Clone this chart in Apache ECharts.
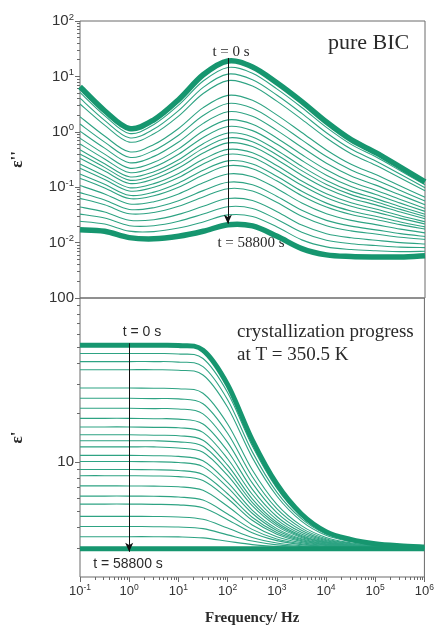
<!DOCTYPE html>
<html><head><meta charset="utf-8">
<script src="https://cdn.jsdelivr.net/npm/echarts@6/dist/echarts.min.js"></script>
<style>html,body{margin:0;padding:0;background:#fff}#c{width:437px;height:628px}</style>
</head><body><div id="c"></div>
<script>
// Frequencies (Hz), half-decade steps
const freq = [0.1, 0.316, 1, 3.16, 10, 31.6, 100, 316, 1000, 3162, 10000, 31623, 100000, 316228, 1000000];

// Tick values
const xMajor = [0.1, 1, 10, 100, 1000, 10000, 100000, 1000000];
const lossMajor = [0.001, 0.01, 0.1, 1, 10, 100];
const lossLabels = [0.01, 0.1, 1, 10, 100];
const permMajor = [10, 100];
const permLabels = [10, 100];

// epsilon'' (top panel), t = 0 s ... t = 58800 s
const loss01 = [6.5,2.4,1.15,1.65,3.8,10.7,19,14.8,7.6,3.5,1.5,0.72,0.42,0.23,0.125];
const loss02 = [5.13,1.96,0.935,1.36,3.03,8.24,14.5,11.4,5.89,2.74,1.2,0.593,0.353,0.198,0.111];
const loss03 = [4.04,1.61,0.78,1.12,2.41,6.35,11.0,8.71,4.57,2.15,0.964,0.488,0.297,0.171,0.0977];
const loss04 = [3.18,1.32,0.652,0.92,1.92,4.9,8.39,6.7,3.54,1.68,0.773,0.402,0.249,0.147,0.0865];
const loss05 = [1.87,0.838,0.435,0.59,1.15,2.73,4.55,3.7,2.0,0.971,0.47,0.259,0.169,0.105,0.0656];
const loss06 = [1.38,0.652,0.347,0.462,0.869,1.97,3.24,2.65,1.45,0.715,0.357,0.204,0.136,0.0871,0.0562];
const loss07 = [1.03,0.507,0.277,0.36,0.655,1.42,2.3,1.91,1.05,0.527,0.271,0.16,0.109,0.0723,0.0482];
const loss08 = [0.764,0.395,0.221,0.281,0.492,1.03,1.64,1.37,0.767,0.388,0.206,0.125,0.0881,0.06,0.0414];
const loss09 = [0.603,0.324,0.184,0.231,0.393,0.792,1.25,1.05,0.594,0.304,0.165,0.103,0.0741,0.0516,0.0366];
const loss10 = [0.474,0.265,0.154,0.19,0.313,0.611,0.951,0.809,0.461,0.238,0.132,0.0849,0.0622,0.0445,0.0324];
const loss11 = [0.397,0.228,0.134,0.164,0.264,0.502,0.775,0.664,0.381,0.199,0.112,0.0735,0.0547,0.0398,0.0295];
const loss12 = [0.332,0.196,0.117,0.141,0.222,0.413,0.631,0.543,0.314,0.165,0.0948,0.0634,0.048,0.0356,0.0269];
const loss13 = [0.262,0.16,0.098,0.116,0.177,0.318,0.481,0.418,0.244,0.129,0.076,0.0522,0.0404,0.0306,0.0238];
const loss14 = [0.219,0.138,0.0855,0.0995,0.149,0.262,0.393,0.343,0.201,0.108,0.0644,0.0452,0.0355,0.0274,0.0217];
const loss15 = [0.173,0.113,0.0714,0.0815,0.119,0.202,0.299,0.263,0.156,0.0843,0.0516,0.0372,0.0298,0.0236,0.0192];
const loss16 = [0.145,0.0971,0.0624,0.0702,0.1,0.166,0.244,0.216,0.129,0.0703,0.0438,0.0321,0.0262,0.0211,0.0175];
const loss17 = [0.107,0.0757,0.0498,0.0547,0.0755,0.12,0.173,0.155,0.0938,0.0518,0.0332,0.0252,0.0211,0.0175,0.015];
const loss18 = [0.0798,0.0589,0.0397,0.0427,0.0569,0.0867,0.123,0.111,0.0681,0.0382,0.0252,0.0198,0.017,0.0145,0.0129];
const loss19 = [0.0628,0.0482,0.0332,0.035,0.0454,0.0668,0.094,0.0855,0.0528,0.0299,0.0202,0.0163,0.0143,0.0125,0.0114];
const loss20 = [0.044,0.0356,0.0253,0.0259,0.0323,0.0453,0.0624,0.0575,0.0361,0.0207,0.0145,0.0122,0.011,0.01,0.00946];
const loss21 = [0.0327,0.0277,0.0202,0.0202,0.0243,0.0327,0.0444,0.0414,0.0262,0.0153,0.011,0.00955,0.00885,0.00828,0.00813];
const loss22 = [0.0243,0.0216,0.0161,0.0158,0.0183,0.0236,0.0316,0.0297,0.0191,0.0112,0.00836,0.0075,0.00713,0.00687,0.00697];
const loss23 = [0.017,0.016,0.0123,0.0117,0.013,0.016,0.021,0.02,0.013,0.0078,0.006,0.0056,0.0055,0.0055,0.0058];

// epsilon' (bottom panel), t = 0 s ... t = 58800 s
const perm01 = [51.5,51.5,51.5,51.5,51.3,48.1,29.7,13.7,7.37,4.84,3.78,3.39,3.19,3.1,3.05];
const perm02 = [45.9,45.9,45.9,45.9,45.6,42.8,26.6,12.6,6.95,4.68,3.71,3.35,3.18,3.09,3.04];
const perm03 = [41,41,41,41,40.7,38.2,24.0,11.6,6.57,4.53,3.65,3.32,3.16,3.08,3.04];
const perm04 = [36.6,36.6,36.6,36.6,36.3,34.0,21.6,10.7,6.23,4.38,3.59,3.29,3.14,3.07,3.03];
const perm05 = [28.3,28.3,28.3,28.2,28.0,26.3,17.1,8.99,5.54,4.11,3.48,3.23,3.11,3.05,3.03];
const perm06 = [24.5,24.5,24.5,24.4,24.3,22.7,15.0,8.18,5.21,3.97,3.42,3.2,3.1,3.05,3.02];
const perm07 = [21.3,21.3,21.3,21.2,21.1,19.7,13.2,7.48,4.93,3.85,3.37,3.18,3.08,3.04,3.02];
const perm08 = [18.5,18.5,18.5,18.4,18.3,17.1,11.7,6.86,4.67,3.74,3.33,3.15,3.07,3.03,3.02];
const perm09 = [16.4,16.4,16.4,16.3,16.2,15.2,10.5,6.38,4.47,3.65,3.29,3.13,3.06,3.03,3.01];
const perm10 = [14.7,14.7,14.7,14.6,14.5,13.6,9.59,5.99,4.31,3.58,3.26,3.12,3.06,3.03,3.01];
const perm11 = [13.5,13.5,13.5,13.5,13.3,12.5,8.92,5.7,4.19,3.53,3.24,3.11,3.05,3.02,3.01];
const perm12 = [12.4,12.4,12.4,12.4,12.2,11.5,8.31,5.44,4.08,3.48,3.22,3.1,3.05,3.02,3.01];
const perm13 = [11,11,11,10.96,10.85,10.2,7.53,5.11,3.94,3.42,3.19,3.09,3.04,3.02,3.01];
const perm14 = [10.1,10.1,10.1,10.06,9.96,9.4,7.03,4.89,3.84,3.38,3.17,3.08,3.04,3.02,3.01];
const perm15 = [9.03,9.03,9.02,8.99,8.91,8.42,6.43,4.62,3.73,3.33,3.15,3.07,3.03,3.01,3.01];
const perm16 = [8.28,8.28,8.27,8.25,8.17,7.74,6.01,4.43,3.64,3.29,3.13,3.06,3.03,3.01,3.01];
const perm17 = [7.18,7.18,7.17,7.15,7.09,6.74,5.39,4.15,3.52,3.24,3.11,3.05,3.02,3.01,3.0];
const perm18 = [6.22,6.22,6.22,6.2,6.14,5.88,4.84,3.9,3.41,3.19,3.08,3.04,3.02,3.01,3.0];
const perm19 = [5.56,5.56,5.56,5.54,5.5,5.28,4.47,3.72,3.33,3.15,3.07,3.03,3.01,3.01,3.0];
const perm20 = [4.68,4.68,4.68,4.67,4.64,4.49,3.97,3.48,3.22,3.1,3.05,3.02,3.01,3.0,3.0];
const perm21 = [4.06,4.06,4.06,4.05,4.03,3.94,3.61,3.31,3.14,3.07,3.03,3.01,3.01,3.0,3.0];
const perm22 = [3.52,3.52,3.52,3.52,3.51,3.46,3.3,3.15,3.07,3.03,3.02,3.01,3.0,3.0,3.0];
const perm23 = [2.97,2.97,2.97,2.97,2.97,2.97,2.97,2.97,2.97,2.97,2.97,2.97,2.97,2.97,2.97];

const lossCurves = [loss01,loss02,loss03,loss04,loss05,loss06,loss07,loss08,loss09,loss10,loss11,loss12,
  loss13,loss14,loss15,loss16,loss17,loss18,loss19,loss20,loss21,loss22,loss23];
const permCurves = [perm01,perm02,perm03,perm04,perm05,perm06,perm07,perm08,perm09,perm10,perm11,perm12,
  perm13,perm14,perm15,perm16,perm17,perm18,perm19,perm20,perm21,perm22,perm23];

// minor tick values (2..9 per decade)
function minorTicks(decades){ const out=[]; decades.forEach(d=>{ for(let m=2;m<=9;m++) out.push(+(m*d).toPrecision(3)); }); return out; }
const xMinor = minorTicks([0.1,1,10,100,1000,10000,100000]);
const lossMinor = minorTicks([0.001,0.01,0.1,1,10]);
const permMinor = minorTicks([1,10]).filter(v=>v>2 && v<100);

const bandColor = '#16966f';
const thinColor = '#2ea383';
const frame = '#6a6a6a';
const ink = '#2a2a2a';

const supRich = {
  b: {fontFamily:'Liberation Sans', fontSize:13, color:'#333', lineHeight:16},
  s: {fontFamily:'Liberation Sans', fontSize:8.5, color:'#333', verticalAlign:'top', lineHeight:9}
};
const supFmt = v => '{b|10}{s|' + Math.round(Math.log10(v)) + '}';
const supRichY = {
  b: {fontFamily:'Liberation Sans', fontSize:15, color:'#333', lineHeight:18},
  s: {fontFamily:'Liberation Sans', fontSize:9.5, color:'#333', verticalAlign:'top', lineHeight:10}
};

// Catmull-Rom spline through the points (pixel space, from the axes' own scales)
function splinePath(pts){
  let d = 'M' + pts[0][0] + ' ' + pts[0][1];
  for (let i = 0; i < pts.length - 1; i++) {
    const p0 = pts[Math.max(i - 1, 0)], p1 = pts[i], p2 = pts[i + 1], p3 = pts[Math.min(i + 2, pts.length - 1)];
    const c1x = p1[0] + (p2[0] - p0[0]) / 6, c1y = p1[1] + (p2[1] - p0[1]) / 6;
    const c2x = p2[0] - (p3[0] - p1[0]) / 6, c2y = p2[1] - (p3[1] - p1[1]) / 6;
    d += ' C' + c1x + ' ' + c1y + ' ' + c2x + ' ' + c2y + ' ' + p2[0] + ' ' + p2[1];
  }
  return d;
}

const series = [];
function addCurves(rows, ai, bandW){
  rows.forEach((r, i) => {
    const edge = (i === 0 || i === rows.length - 1);
    series.push({
      type:'custom', xAxisIndex:ai, yAxisIndex:ai, silent:true,
      data: r.map((v, j) => [freq[j], v]),
      encode:{x:0, y:1},
      z: edge ? 4 : 3,
      renderItem: function(params, api){
        if (params.dataIndexInside !== 0) return null;
        const pts = r.map((v, j) => api.coord([freq[j], v]));
        return {type:'path', shape:{pathData: splinePath(pts)},
          style:{fill:'none', stroke: edge ? bandColor : thinColor, lineWidth: edge ? bandW : 1.1}};
      }
    });
  });
}
addCurves(lossCurves, 0, 5.5);
addCurves(permCurves, 1, 5);

const arrowTop = [[100, 21.5], [100, 0.022]];
const arrowBottom = [[1, 53], [1, 2.85]];
function arrowSeries(pts, ai){
  return {type:'line', xAxisIndex:ai, yAxisIndex:ai, silent:true, data: pts, symbol:'none',
    lineStyle:{opacity:0}, z:6,
    markLine:{symbol:['none','arrow'], symbolSize:[6,9], silent:true, animation:false,
      lineStyle:{color:'#111', width:1, type:'solid'}, label:{show:false},
      data:[[{coord:pts[0]}, {coord:pts[1]}]]}};
}
series.push(arrowSeries(arrowTop, 0));
series.push(arrowSeries(arrowBottom, 1));

const logX = {type:'log', logBase:10, min:0.1, max:1000000, splitLine:{show:false}, axisLine:{show:false}};

const option = {
  animation:false,
  backgroundColor:'#fff',
  grid:[
    {left:80, top:21, width:345, height:277, show:true, borderColor:frame, borderWidth:1, backgroundColor:'transparent'},
    {left:80, top:298, width:345, height:279, show:true, borderColor:frame, borderWidth:1, backgroundColor:'transparent'},
    {left:80, top:21, width:345, height:277},
    {left:80, top:298, width:345, height:279}
  ],
  xAxis:[
    Object.assign({gridIndex:0, axisTick:{show:false}, axisLabel:{show:false}}, logX),
    Object.assign({gridIndex:1,
      axisTick:{show:true, customValues:xMajor, length:5, lineStyle:{color:frame}},
      axisLabel:{show:true, customValues:xMajor, formatter:supFmt, rich:supRich, margin:6},
      name:'Frequency/ Hz', nameLocation:'middle', nameGap:34,
      nameTextStyle:{fontFamily:'Liberation Serif', fontWeight:'bold', fontSize:15, color:ink}}, logX),
    Object.assign({gridIndex:2, axisTick:{show:false}, axisLabel:{show:false}}, logX),
    Object.assign({gridIndex:3, axisTick:{show:true, customValues:xMinor, length:3, lineStyle:{color:frame}}, axisLabel:{show:false}}, logX)
  ],
  yAxis:[
    {gridIndex:0, type:'log', logBase:10, min:0.001, max:100, splitLine:{show:false}, axisLine:{show:false},
      axisTick:{show:true, customValues:lossMajor, length:5, lineStyle:{color:frame}},
      axisLabel:{show:true, customValues:lossLabels, formatter:supFmt, rich:supRichY, margin:6},
      name:"ε''", nameLocation:'middle', nameGap:54, nameRotate:90,
      nameTextStyle:{fontFamily:'Liberation Serif', fontWeight:'bold', fontSize:17, color:ink}},
    {gridIndex:1, type:'log', logBase:10, min:2, max:100, splitLine:{show:false}, axisLine:{show:false},
      axisTick:{show:true, customValues:permMajor, length:5, lineStyle:{color:frame}},
      axisLabel:{show:true, customValues:permLabels, formatter:v=>String(Math.round(v)),
        fontFamily:'Liberation Sans', fontSize:15, color:'#333', margin:6},
      name:"ε'", nameLocation:'middle', nameGap:54, nameRotate:90,
      nameTextStyle:{fontFamily:'Liberation Serif', fontWeight:'bold', fontSize:17, color:ink}},
    {gridIndex:2, type:'log', logBase:10, min:0.001, max:100, splitLine:{show:false}, axisLine:{show:false},
      axisTick:{show:true, customValues:lossMinor, length:3, lineStyle:{color:frame}}, axisLabel:{show:false}},
    {gridIndex:3, type:'log', logBase:10, min:2, max:100, splitLine:{show:false}, axisLine:{show:false},
      axisTick:{show:true, customValues:permMinor, length:3, lineStyle:{color:frame}}, axisLabel:{show:false}}
  ],
  graphic:[
    {type:'text', x:328, y:43, silent:true, style:{text:'pure BIC', font:'22px "Liberation Serif"', fill:ink, align:'left', verticalAlign:'middle'}},
    {type:'text', x:231, y:52, silent:true, style:{text:'t = 0 s', font:'15px "Liberation Serif"', fill:ink, align:'center', verticalAlign:'middle'}},
    {type:'text', x:251, y:243, silent:true, style:{text:'t = 58800 s', font:'15px "Liberation Serif"', fill:ink, align:'center', verticalAlign:'middle'}},
    {type:'text', x:142, y:332, silent:true, style:{text:'t = 0 s', font:'14px "Liberation Sans"', fill:ink, align:'center', verticalAlign:'middle'}},
    {type:'text', x:128, y:564, silent:true, style:{text:'t = 58800 s', font:'14px "Liberation Sans"', fill:ink, align:'center', verticalAlign:'middle'}},
    {type:'text', x:237, y:332, silent:true, style:{text:'crystallization progress', font:'19px "Liberation Serif"', fill:ink, align:'left', verticalAlign:'middle'}},
    {type:'text', x:237, y:355, silent:true, style:{text:'at T = 350.5 K', font:'19px "Liberation Serif"', fill:ink, align:'left', verticalAlign:'middle'}}
  ],
  series: series
};
const chart = echarts.init(document.getElementById('c'), null, {renderer:'canvas'});
chart.setOption(option);
</script>
</body></html>
